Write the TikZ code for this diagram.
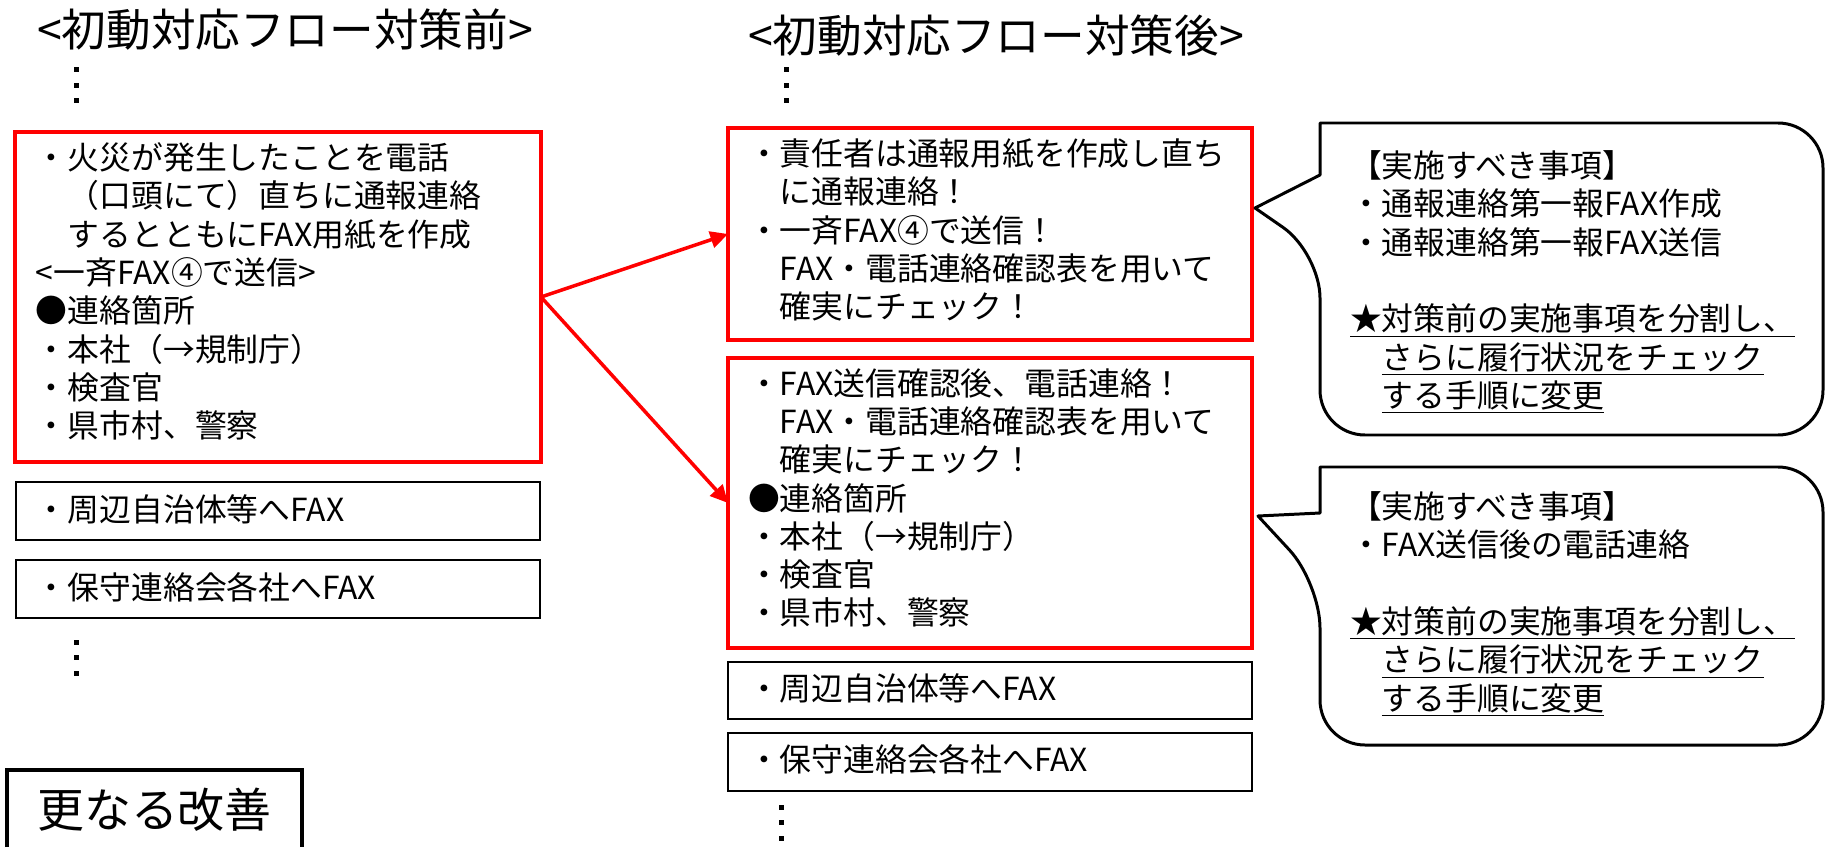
\documentclass[tikz,border=0pt]{standalone}
\usepackage{fontspec}
\setmainfont{Noto Sans CJK JP}
\usepackage{tikz}
\usetikzlibrary{arrows.meta,fit}
\definecolor{flowred}{RGB}{255,0,0}

\begin{document}
\begin{tikzpicture}[x=0.2mm,y=-0.2mm,
every node/.style={inner sep=0pt,outer sep=0pt},
txt/.style={anchor=west,align=left,font=\fontsize{18.1}{21.8}\selectfont},
ttl/.style={anchor=west,font=\fontsize{25.4}{30}\selectfont},
redbox/.style={draw=flowred,line width=2pt},
blkbox/.style={draw,line width=0.8pt},
flowarrow/.style={draw=flowred,line width=2pt,-{Triangle[length=10pt,width=9.5pt]}},
bubble/.style={draw,line width=1.7pt,fill=white,line join=round}]
\useasboundingbox (0,0) rectangle (1827,847);
\def\dotstep{15.5}

% titles
\node[ttl] (ttlB) at (37,30) {<初動対応フロー対策前>};
\node[ttl] (ttlA) at (748,36) {<初動対応フロー対策後>};

% flow before
\node[redbox,fit={(15,132)(541,462)}] (B1) {};
\node[blkbox,fit={(16,482)(540,540)}] (B2) {};
\node[blkbox,fit={(16,560)(540,618)}] (B3) {};
\node[txt] (tB1) at (36,291.5) {・火災が発生したことを電話\\　（口頭にて）直ちに通報連絡\\　するとともにFAX用紙を作成\\<一斉FAX④で送信>\\●連絡箇所\\・本社（→規制庁）\\・検査官\\・県市村、警察};
\node[txt] (tB2) at (36,509) {・周辺自治体等へFAX};
\node[txt] (tB3) at (36,587) {・保守連絡会各社へFAX};

% flow after
\node[redbox,fit={(728,128)(1252,340)}] (A1) {};
\node[redbox,fit={(728,358)(1252,648)}] (A2) {};
\node[blkbox,fit={(728,662)(1252,719)}] (A3) {};
\node[blkbox,fit={(728,733)(1252,791)}] (A4) {};
\node[txt] (tA1) at (748,230) {・責任者は通報用紙を作成し直ち\\　に通報連絡！\\・一斉FAX④で送信！\\　FAX・電話連絡確認表を用いて\\　確実にチェック！};
\node[txt] (tA2) at (748,498) {・FAX送信確認後、電話連絡！\\　FAX・電話連絡確認表を用いて\\　確実にチェック！\\●連絡箇所\\・本社（→規制庁）\\・検査官\\・県市村、警察};
\node[txt] (tA3) at (748,688) {・周辺自治体等へFAX};
\node[txt] (tA4) at (748,759) {・保守連絡会各社へFAX};

%vertical dots (continuation)
\foreach \x/\y in {76/70,786/70,76/642,781/807}
  \foreach \d in {0,1,2}
    \fill (\x-2.5,\y+\d*\dotstep-2.5) rectangle +(5,5);

\draw[flowarrow] (B1.east) -- (A1.west);
\draw[flowarrow] (B1.east) -- (A2.west);

% speech bubbles
\draw[bubble] (1570,123) [rounded corners=9mm] -- (1823,123) -- (1823,435) -- (1320,435) -- (1320,253)
  [sharp corners] -- (1255,208) -- (1320,175) -- (1320,123) [rounded corners=9mm] -- cycle;
\draw[bubble] (1570,467) [rounded corners=9mm] -- (1823,467) -- (1823,745) -- (1320,745) -- (1320,583)
  [sharp corners] -- (1258,516) -- (1320,513) -- (1320,467) [rounded corners=9mm] -- cycle;
\node[txt] (n1) at (1350,282) {【実施すべき事項】\\・通報連絡第一報FAX作成\\・通報連絡第一報FAX送信\\[\baselineskip]\underline{★対策前の実施事項を分割し、}\\　\underline{さらに履行状況をチェック}\\　\underline{する手順に変更}};
\node[txt] (n2) at (1350,604) {【実施すべき事項】\\・FAX送信後の電話連絡\\[\baselineskip]\underline{★対策前の実施事項を分割し、}\\　\underline{さらに履行状況をチェック}\\　\underline{する手順に変更}};

% further improvement
\node[font=\fontsize{26.7}{32}\selectfont] (kaizen) at (154.5,810) {更なる改善};
\draw[line width=1.9pt] (7,847) |- (302,770) -- (302,847);
\end{tikzpicture}
\end{document}
